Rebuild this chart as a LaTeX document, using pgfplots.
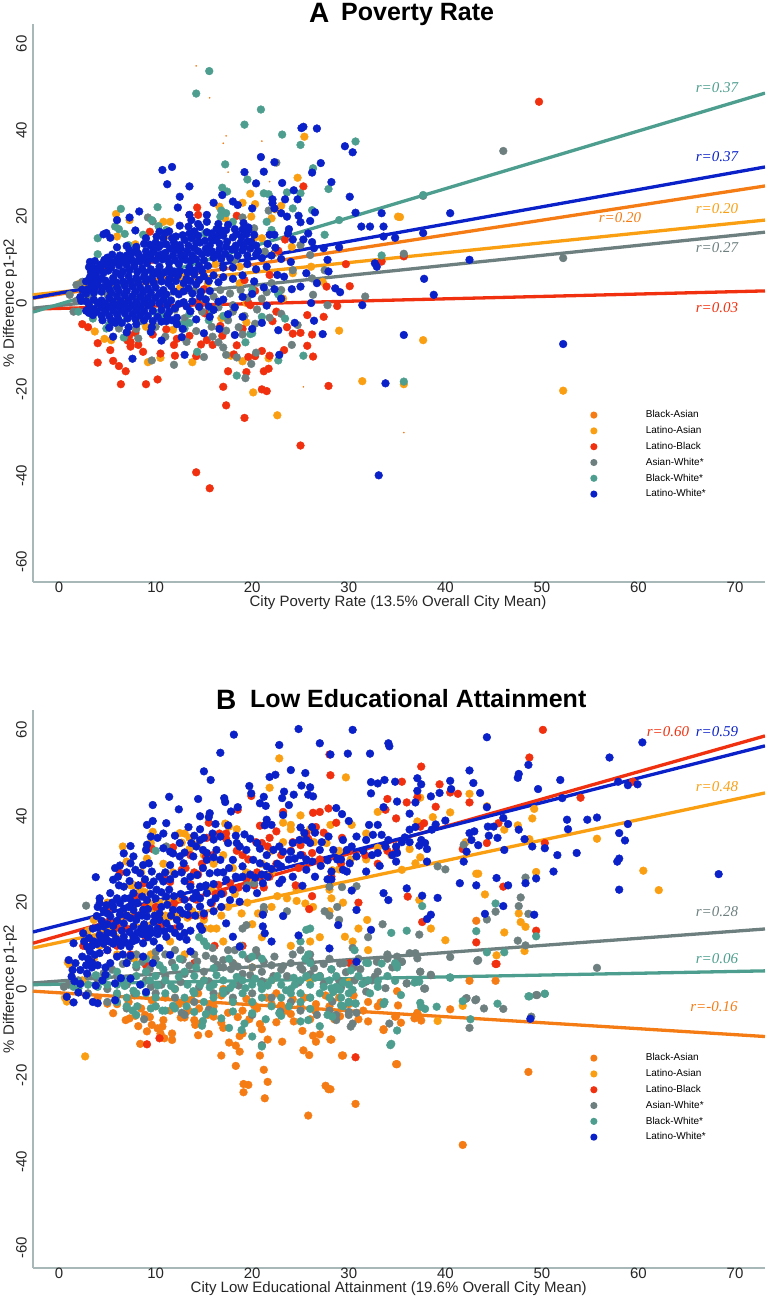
\documentclass[border=0pt]{standalone}
\usepackage{fontspec}
\setmainfont{Liberation Sans}
\newfontfamily\tms{Liberation Serif}
\usepackage{pgfplots}
\pgfplotsset{compat=1.18}

\definecolor{cBA}{HTML}{F57C14}
\definecolor{cLA}{HTML}{FA9F12}
\definecolor{cLB}{HTML}{F0300F}
\definecolor{cAW}{HTML}{6E7F7F}
\definecolor{cBW}{HTML}{4D9E8E}
\definecolor{cLW}{HTML}{0A20C8}
\definecolor{axc}{HTML}{A8B8B8}
\definecolor{txt}{HTML}{262626}

\newcommand{\lblfont}{\fontsize{15}{15}\selectfont}

\pgfplotsset{
  dots/.style={only marks, mark=*, mark size=3.9pt, color=#1, mark options={draw=none, fill=#1}},
  specks/.style={only marks, mark=*, mark size=0.6pt, color=#1, mark options={draw=none, fill=#1}},
  fit/.style={no marks, line width=3.3pt, color=#1},
  panel/.style={
    scale only axis, width=732pt, height=558pt,
    xmin=-2.7, xmax=73.1, ymin=-64.6, ymax=64.6,
    axis x line=bottom, axis y line=left,
    axis line style={-, draw=axc, line width=1.3pt},
    xtick={0,10,20,30,40,50,60,70},
    ytick={-60,-40,-20,0,20,40,60},
    yticklabels={-60,-40,-20,0,20,40,60},
    major tick length=0pt,
    /pgf/number format/assume math mode=true,
    tick label style={font=\lblfont, text=txt},
    xticklabel style={anchor=north, inner sep=0pt},
    yticklabel style={rotate=90, anchor=south, inner sep=0pt, yshift=6pt},
    every axis y label/.style={at={(axis description cs:0,0.5)}, rotate=90, yshift=23pt, anchor=center, font=\lblfont, text=txt},
    legend image code/.code={\fill[draw=none, ##1] (0pt,0pt) circle (3.6pt); \path[draw=none, fill=none] (0pt,0pt) -- (52pt,0pt);},
    legend cell align=left,
    legend style={draw=none, fill=none, inner sep=0pt, row sep=6.3pt,
      nodes={font=\fontsize{10}{10}\selectfont, text=black, inner sep=0pt, text height=7.5pt, text depth=2pt}},
  },
}

\begin{document}
\begin{tikzpicture}
\useasboundingbox (0,0) rectangle (767pt,-1298pt);

% ---------- panel A ----------
\begin{axis}[panel, at={(33pt,-582pt)}, anchor=south west,
  xlabel={City Poverty Rate (13.5\% Overall City Mean)},
  ylabel={\% Difference p1-p2},
  every axis x label/.style={at={(axis description cs:0.4986,0)}, yshift=-21pt, anchor=center, font=\lblfont, text=txt},
  legend style={at={(axis description cs:0.761,0.308)}, anchor=north west}]
\addlegendimage{fill=cBA}
\addlegendimage{fill=cLA}
\addlegendimage{fill=cLB}
\addlegendimage{fill=cAW}
\addlegendimage{fill=cBW}
\addlegendimage{fill=cLW}

\addplot[specks=cBA] coordinates {(14.2,54.9)(15.6,47.5)(17.3,38.7)(17,37)(21,37.5)(17.5,30.3)(21.8,28.1)(25.3,-19.4)(35.7,-30)};

\addplot[dots=cLA] coordinates {(5.9,20.6)(7.3,19.2)(6,15.4)(7.9,13.6)(10.8,18.8)(11.5,18.8)(25.4,38.5)(24.7,29)(19.8,25.3)(19,23.2)(20.3,22.9)(16.6,22.3)(23,22.5)(22.4,21.7)(19.9,20)(22,19.6)(17.2,19.6)(35.1,20)(24.1,13)(20.3,15.2)(21,15)(24.2,6.9)(26.1,8.4)(27.3,4.9)(18.7,8.4)(18.7,4.6)(12.5,12.3)(11,15.4)(13.9,16.1)(12.5,3.4)(14.6,0)(15.4,4.6)(2.2,4.6)(2.7,4.2)(19.4,0)(3.7,-6.6)(4.7,-8.3)(5.4,-8.6)(9.2,-13.7)(10.5,-12.7)(13.8,-13.7)(17.8,-12.2)(19,-13.5)(21.7,-12.8)(20.1,-20.7)(22.6,-26)(31.4,-18.1)(29,-6.4)(11.8,-6.2)(9,-5.5)(19.4,-4.5)(35.3,19.9)(37.7,-8.6)(52.2,-20.3)(35.7,-18.8)(8.8,-1)(16.8,-3.5)(23.2,1)(16.2,9)(13,6)(22.3,11.5)};

\addplot[dots=cLB] coordinates {(25.3,27)(14.3,22.1)(13.5,20.4)(14.4,20.4)(18.4,20.2)(23.4,14.7)(22.7,12.1)(9.4,16.5)(9.6,10)(4.6,7.6)(13.9,10.3)(29.7,9)(33.4,9.6)(21.8,6.5)(19.2,5.3)(20.3,2.8)(15,3.2)(27.7,3.8)(30.1,3.9)(14.4,.3)(14.6,-.5)(19.8,-.5)(19.6,0)(25.7,-2.8)(27.4,-3.2)(28.8,-.7)(22.5,-2)(15.1,-2.4)(4,-13.8)(5.6,-13.4)(6.2,-14.6)(6.9,-15.8)(6.4,-18.8)(9,-18.8)(10.2,-17.7)(5.3,-10.9)(4,-9.3)(2.4,-4.9)(3,-5.6)(7.4,-9)(7.4,-10.1)(8.2,-9.7)(8.7,-11.3)(9.7,-7.3)(10.5,-11.7)(12,-12.2)(11.9,-9.7)(11.1,-6.1)(12.2,-8.3)(13.5,-7.6)(14.7,-9.6)(15.3,-8.6)(15.9,-9.7)(16.9,-7.6)(16.7,-5.3)(14.2,-12.3)(17.5,-15.8)(19.4,-16)(17,-19.4)(17.3,-23.7)(19.2,-26.6)(21,-20)(21.5,-20.4)(21.2,-15.8)(21.7,-15.2)(18.1,-11.9)(19.6,-12.5)(20.3,-12.3)(21,-11.1)(21.8,-12.2)(23.3,-10.9)(18.4,-9.8)(19,-6)(24.2,-7.1)(25,-6.9)(26.2,-7.3)(25.7,-9.9)(26.3,-12.4)(27.9,-19.2)(25,-33)(14.2,-39.2)(15.6,-42.9)(23.6,-5.6)(22.1,-4.2)(7.3,-7.4)(7.9,-6.9)(7.1,-8.7)(49.7,46.6)(35.7,10.8)};

\addplot[dots=cAW] coordinates {(9.2,19.8)(9.7,18.9)(22.5,32.5)(21.7,21.4)(19,19.8)(20.2,17.3)(21.3,11.9)(25,13.4)(26,11.1)(31.7,1.5)(26.3,1.9)(27.8,-.5)(22,4.6)(24.2,7.6)(26.2,5.7)(27.5,7.6)(18.2,10)(17.7,2.2)(1.1,1.9)(1.8,4.2)(2.4,4.9)(1.5,-2)(1.8,.5)(9.6,-13.3)(11.9,-14.3)(15,-12.5)(13.2,-9)(11,-7.8)(8.2,-8.2)(16.5,-9.1)(17,-10.3)(17.3,-12)(18.4,-12.6)(19.3,-17.4)(19.9,-14.1)(20.4,-11.5)(19,-7.3)(24.1,-9.7)(14.2,-6.5)(15.9,-7.8)(17.3,-6.4)(18.6,-5.6)(20.3,-4.8)(24.7,-5.1)(15.8,-5.5)(6.2,-5.9)(46,35.2)(37.7,24.8)(35.7,11.4)(52.2,10.4)(13,-3.5)(14.8,-2)(16.5,-1)(18,-2)(12,-1.5)(10.5,-3)(8.5,-4.2)(20.5,-1.5)(16,1.5)(18.8,3)(14,2.8)(21,1)(8,-6)(17.5,-4)(23,-2.5)(4,-1)(3,1)(5,2)(18,-.5)(19.5,1.2)(21.5,2.5)(23,3)(16.7,3)(15,1)(12.6,-5)(10,-5.5)(19.2,-3)(21.8,-3.4)};

\addplot[dots=cBW] coordinates {(15.55,53.7)(14.2,48.5)(20.9,44.8)(19.2,41.3)(23.1,39)(25,36.6)(30.7,37.4)(17.2,32.1)(26.3,31.2)(19.5,28.6)(16.9,26.7)(17.4,25.8)(21.2,25.4)(21.7,25.2)(23.6,25.6)(25,25.4)(27.9,26.4)(24.2,21.9)(26.2,21.5)(6.4,21.8)(5.8,17.7)(6.2,17.1)(4,15)(4,11.3)(10.2,22.2)(9.6,19.2)(11.1,16.9)(29,19.2)(27.5,15.8)(33.4,11)(7.2,13.4)(8.7,15.8)(10.3,17.8)(14.2,15.4)(15.1,16.1)(16.8,21.4)(17.3,20.8)(18,18.8)(16.7,20)(21.5,18.8)(22,16.9)(22.7,2)(23.4,-3.6)(21,-3.2)(9.8,-2)(10.8,-2.8)(13.5,-2.5)(2,-2)(18.4,-16.8)(25.3,-12.2)(22.7,-13.3)(19.3,-9.1)(14.3,-11.3)(19.8,-7.2)(13,-5.9)(6.7,-8)(4.9,-5.9)(35.7,-18.2)(12.8,-5)(13.5,-4.6)(20,-7)(37.7,25)(4.5,9)(6.8,16)(17,-3)(15.5,-4)(20,3)(11,1)(7,-3.5)(5.2,-5)(6,-4.5)(3.5,-3.6)(15.8,-1.8)};

\addplot[dots=cLW] coordinates {(25.3,40.8)(25.1,40.5)(26.7,40.4)(29.6,36.3)(30.4,34.9)(20.9,33.8)(22.3,32.6)(27.1,32.4)(10.7,30.8)(11.7,31.5)(19.2,30.3)(21.2,30.4)(26.2,30.2)(11.2,27.5)(13.5,27)(20.4,27.7)(23.1,27.8)(28.2,28)(24.3,26.1)(30.1,24.6)(12.5,24.6)(16.9,25)(22.1,24)(23.4,24)(24.7,24)(4.6,15.9)(4.9,16.2)(5.3,15.1)(6,12.9)(6,19.2)(7.3,19.8)(8.3,21.2)(7.9,16.8)(10.1,15.4)(10.8,15)(11.7,15)(12.3,22.1)(13.5,20.4)(13.7,19.2)(13.4,17.7)(12.5,17.9)(14.4,18.3)(15.3,20.4)(16,23.2)(15.3,18.8)(16.5,18.3)(16.7,16.9)(17.5,18.1)(18,23.5)(18.5,22.7)(20,21.9)(19.1,18.5)(19.6,16.9)(22.1,23.1)(22.3,21.9)(23,20.8)(23.6,20)(24.8,20.2)(25,18.7)(26,19)(26.5,21)(23.8,17.1)(23.7,16.1)(22.3,15.8)(21.8,15.8)(24.2,14.7)(25.3,14.7)(26.2,14.1)(25.8,16.1)(30.7,20.9)(33.4,20.8)(31.3,17.7)(32.2,17.7)(33.6,17.7)(33.6,15.4)(34.8,15.1)(29,12.9)(27.4,12.7)(26.4,12.7)(27.8,10)(27.9,7.3)(32.9,8.4)(32.7,9.2)(26.7,4.6)(25,3.8)(24.1,3.2)(28.6,3.4)(29.1,2.5)(26.1,0)(31.4,-.5)(23.3,6.1)(22.6,6.5)(25.6,6.9)
(40.5,20.8)(37.7,16.2)(42.5,10)(37.8,5.6)(38.8,1.9)(35.7,-7.4)(52.2,-9.5)
(7.6,-12.9)(13,-12)(10.6,-8.7)(5.6,-7.8)(12.7,-7.9)(15,-7)(22.7,-6.3)(22.8,-12)(27.3,-7.2)(24.4,-4.6)(26.4,-4.1)(33.8,-18.6)(33.1,-39.9)(5.2,-5.7)(5.8,-4.6)(6.5,-4.6)(7.2,-5.6)(8,-4.9)(9.6,-5.6)(11.1,-4.2)(12.2,-4.9)
(3.2,9.5)(3.7,9.7)(4.4,9)(5,10.5)(5.5,11.2)(6.3,11)(7,11)(7.5,10)(8.2,11.4)(8.8,10.5)(9.1,9.2)(9.8,12)(10.3,12.9)(10.6,11.2)(11.2,10.3)(11.5,12.6)(10,14)(9.4,13.5)(9,15)(11.9,14)(12.5,13.4)(13,14.6)(13.7,15)(14.4,15.6)(14.6,14)(14,12.7)(13.3,12)(12.6,11)(14.8,11.3)(15.4,11.6)(16,14.5)(16.4,15.4)(17,15.6)(17.4,14.2)(18,15.2)(18.4,16)(18.9,15.3)(19.4,15.9)(18.8,14)(19.5,14.2)(17.9,12.4)(16.6,12.4)(16,10.5)(16.8,10.2)(17.7,10.4)(18.5,11)(19.5,11)(20.4,11.2)(21,10.4)(22,11)(23,10.2)(24,9.5)(21.5,8.4)(20.4,7.8)(19.5,9)(18,8.2)(17,8.2)(15.4,8.6)(14.5,8.6)(13.5,8.2)(12.4,9)(11.4,8)(10.4,8.4)(9.5,7.8)(8.6,8)(7.8,8.5)(7,8.8)(6.2,8.7)(5.4,8.2)(4.6,7)(3.8,6.6)(3.2,6)(2.8,5)(3.4,4)(4,4.8)(4.8,5.2)(5.6,5.8)(6.4,6.4)(7.2,6.2)(8,5.8)(8.8,6.1)(9.6,5.6)(10.5,6.2)(11.4,5.6)(12.3,6.4)(13.2,5.6)(14,6.6)(15,6.2)(16,6.4)(17,6)(18,5.6)(19,6.4)(20.2,5)(21.2,3.6)(22.3,3.2)(23,1)(21.5,-0.6)(20,2.1)(19,1.4)(18.2,-1)(17,.8)(16,-1.6)(15.2,.8)(14.2,4.3)(13.4,3.4)(12.4,2)(11.6,3.9)(10.8,3)(10,3.6)(9.2,3.4)(8.4,3.6)(7.6,3.8)(6.8,4)(6,3.6)(5.2,3.2)(4.4,2.6)(3.6,2.4)(2.8,2.2)(2.2,1.4)(2.8,.4)(3.6,.8)(4.4,.6)(5.2,1.2)(6,1.6)(6.8,1.8)(7.6,1.6)(8.4,1.4)(9.2,1.2)(10,1.2)(10.8,.8)(11.6,.6)(12.4,-.2)(13.2,-.8)(9.2,-.6)(8.4,-.8)(7.6,-.6)(6.8,-.4)(6,-.6)(5.2,-.8)(4.4,-1)(3.6,-1.4)(2.8,-1.8)(3.5,-2.8)(4.4,-2.9)(5.2,-3)(6,-2.6)(6.8,-2.4)(7.6,-2.6)(8.4,-2.8)(9.2,-3)(10.2,-3.2)(11.2,-3)(12.2,-3.4)(14.2,-3.8)(15.6,-3.2)(17.5,-2.6)(19,-3.2)(20,-6)(21,-4.6)(16.6,-6)(18.2,-7.4)(12.8,-6)(7,-6.8)(9.5,-6.7)(9,12)(8,13)(7,13.2)(6.5,9.9)(14.6,17.6)(15.6,13.3)(13.1,10)(11.9,7.3)(20.4,13.3)(21.6,13.7)(22.4,12.8)
(3.1,8.3)(3.6,8.1)(4.2,8.6)(4.9,8.9)(5.7,9.4)(6.4,9.6)(7.1,9.7)(7.8,9.4)(8.4,9.6)(9.3,10.1)(10,9.9)(10.7,10.1)(11.4,9.3)(12,9.9)(12.8,10.2)(13.6,9.7)(14.2,10.1)(15,9.9)
(3.3,7.2)(3.9,7.4)(4.3,7.9)(5.1,7.5)(5.9,7)(6.6,7.3)(7.3,7.6)(8.1,7.2)(8.9,7.1)(9.7,7)(10.2,7.3)(10.9,7.1)(11.7,6.7)(12.5,7.4)(13.3,7.1)(14,7.5)(14.8,7.4)
(3.1,5.2)(3.7,5.4)(4.4,5.7)(5.2,4.5)(5.9,4.8)(6.6,5)(7.4,5)(8.2,4.7)(9,5)(9.8,4.6)(10.6,5)(11.3,4.6)(12.1,5.1)(12.9,4.6)(13.6,5.1)(14.5,5.3)(15.5,5.1)(16.5,4.8)
(2.4,3.1)(3,3.2)(3.7,3.4)(4.5,3.6)(5.4,2.4)(6.2,2.7)(7,2.8)(7.9,2.6)(8.7,2.5)(9.5,2.4)(10.4,2.2)(11.1,2)(11.9,2.7)(12.9,2.7)(13.8,2.2)(14.7,2.6)(15.6,2.8)
(2.3,.5)(3.1,-.4)(4,0)(4.8,-.2)(5.6,.2)(6.4,.4)(7.2,.6)(8,.2)(8.8,.3)(9.6,0)(10.4,-.1)(11.2,-.5)(12,-1.2)(12.9,.2)(13.8,.4)(14.6,1.5)(15.5,-.8)(16.5,.3)
(3.1,-2.3)(3.9,-2)(4.8,-1.9)(5.6,-1.7)(6.4,-1.5)(7.2,-1.3)(8,-1.7)(8.8,-1.9)(9.7,-1.8)(10.6,-1.6)(11.4,-2)(13.6,-1.9)(14.5,-.9)
(4.5,-4)(5.4,-4)(6.1,-3.6)(7.1,-3.6)(7.9,-3.7)(8.8,-4)(9.7,-4.2)(10.6,-4.3)(11.7,-4)
(4.7,10)(5.3,9.6)(6,10.1)(6.8,10.5)(7.5,11.4)(8.3,10.3)(9,10.9)(9.5,11.2)(10.3,11)(11,11.6)(11.8,11)(12.2,12.3)(13,11)(13.8,11)(14.4,12)(15.2,12.6)(15.8,12)(16.4,11.3)(17.2,11.4)(18.2,12.4)(19,12.2)(19.8,12.6)(20.6,12)
(7.3,12.2)(8,12)(8.8,13.7)(9.7,13)(10.5,13.4)(11.1,13.6)(11.8,12.6)(12.6,12.6)(13.4,13.3)(14.2,13.9)(15.1,14.4)(15.8,14.9)(16.6,13.8)(17.3,13)(18.3,13.3)(19.1,13)(19.9,14.2)
(10.4,16.5)(11,16.2)(11.4,16.6)(12.1,15.4)(12.8,15.7)(13.5,16.1)(14,16.6)(15.3,16.4)(15.8,16.1)(16.3,17.1)(17.3,16.9)(18.2,17.1)(19,17)(19.6,17.5)(20.2,15.8)};

\addplot[fit=cBA] coordinates {(-2.7,1.1)(73.1,27.1)};
\addplot[fit=cLA] coordinates {(-2.7,1.9)(73.1,19.2)};
\addplot[fit=cLB] coordinates {(-2.7,-1.4)(73.1,2.8)};
\addplot[fit=cAW] coordinates {(-2.7,-1.2)(73.1,16.4)};
\addplot[fit=cBW] coordinates {(-2.7,-2.1)(73.1,48.6)};
\addplot[fit=cLW] coordinates {(-2.7,1.2)(73.1,31.5)};
\legend{Black-Asian,Latino-Asian,Latino-Black,Asian-White*,Black-White*,Latino-White*}
\end{axis}

% ---------- panel B ----------
\begin{axis}[panel, at={(33pt,-1268pt)}, anchor=south west,
  xlabel={City Low Educational Attainment (19.6\% Overall City Mean)},
  ylabel={\% Difference p1-p2},
  every axis x label/.style={at={(axis description cs:0.486,0)}, yshift=-21pt, anchor=center, font=\lblfont, text=txt},
  legend style={at={(axis description cs:0.761,0.385)}, anchor=north west}]
\addlegendimage{fill=cBA}
\addlegendimage{fill=cLA}
\addlegendimage{fill=cLB}
\addlegendimage{fill=cAW}
\addlegendimage{fill=cBW}
\addlegendimage{fill=cLW}

\addplot[dots=cBA] coordinates {(5.6,-5.6)(6.9,-7.2)(7.3,-6.8)(7.9,-6.2)(8.2,-8.6)(8.4,-12.7)(9.1,-9.8)(8.9,-6)(9.6,-8.3)(10.2,-9.1)(10.7,-8.7)(10.8,-7.2)(10.5,-10.3)(10.9,-11.4)(11.7,-10.3)(11.7,-11.8)(12.6,-6.6)(13,-6.6)(14,-7.2)(14.1,-8.3)(14.6,-8)(14.4,-10.7)(15.5,-10.4)(16,-6.4)(16.8,-7.8)(16.8,-15.4)(17.6,-12.4)(18.3,-13.1)(18.7,-14.5)(18.3,-17.8)(18.7,-10.9)(19,-10.3)(19.1,-22)(19.6,-22.2)(19.1,-23.9)(20.8,-8.1)(20.8,-15.4)(21.2,-18.7)(21.6,-21.5)(21.3,-25.3)(21.6,-11.7)(23.1,-12.2)(24.3,-7.5)(25.2,-9.7)(25.3,-14.2)(25.9,-15.3)(25.8,-29.3)(26.3,-10.8)(26.6,-12.2)(27,-10.5)(27.6,-22.4)(27.9,-23.2)(28.1,-11.7)(29.3,-15.4)(30.7,-26.6)(33.6,-9.5)(34.9,-17.4)(34.9,-6.3)
(28.2,-11.7)(29.4,-15.4)(28.1,-23.2)(35,-17.4)(33.6,-9.3)(35.4,-7.8)(34.8,-6.4)(35.1,-3.8)(33.3,-3.1)(35,-.5)(37.1,-5.5)(36.8,-6.8)(37.5,-7.3)(37.2,-6.2)(40.5,-4.7)(42.5,1.9)(45.2,1.9)(48.6,-19.2)(41.8,-36.1)(29.1,-6.3)(43.2,15.8)
(6,-3.5)(8.5,-4.5)(10,-4)(11.5,-5)(13,-3)(14.5,-4.5)(16,-4)(17.5,-5.5)(19,-5)(20.5,-4.5)(22,-3.5)(23.5,-5)(25,-4)(26.5,-5)(28,-4)(30,-3.5)(31.5,-5)(33,-4)(15,2)(17,0)(22.5,-1)(27,3)(12,0)
(4,-2)(5,-3.4)(7.2,-3)(7.8,-1.5)(9.6,-2.6)(11,-2)(12.4,-3.5)(13.7,-2.5)(14.4,-1)(15.6,-3.5)(16.8,-1.5)(18,-3)(19.4,-2.3)(20.2,-3.8)(21.5,-2)(23,-3.7)(24.2,-2.4)(25.4,-2)(26.6,-3.5)(27.6,-1.5)(29,-2)(30.5,-1.5)(32,-3)(9.4,-6.5)(13.4,-5)(15.4,-6)(17,-9)(18.5,-6.5)(19.7,-7)(21,-9.3)(22.5,-7.7)(24,-5.8)(26,-7)(28.5,-7)(31,-7)(32,-7.5)};

\addplot[dots=cLA] coordinates {(2.7,-15.6)(.8,-2.9)(.9,6.2)(1.1,5.6)(3,13.5)(3.6,16)(5,20)(6.6,33)(7,29.5)(7.4,24)(8.5,27)(9.1,30.2)(9.7,36.4)(9.5,33.8)(10.8,25.5)(11,17)(12.5,36.1)(12.7,33.9)(13.5,32.4)(14,26.5)(15.8,23)(16.3,14)(17.2,38.3)(17.6,37.6)(18.4,37)(19.5,20)(19.7,25)(21.8,46.6)(22.8,53.4)(23.2,38.5)(24,38)(25,40.2)(26,37)(28.1,38)(29.7,49)(30.3,38)(31.8,36)(33,41)(34.9,33)(24.6,20.4)(25.5,19.8)(26.3,19)(28,23)(28.3,27.5)(29,27.7)(28,18)(29.6,12.1)(30.4,11)(31.9,16)(22,27)(17,11)(15,14)(18,6)(20,5)(22,2)(26,2)(13,8)(11.5,11)(9.5,8)(7.8,7)(6,8)(4,12)(2.4,2)(37.4,44.3)(42.5,45.2)(44.3,42.3)(40.5,40.9)(38.7,39.8)(37.1,38.8)(49.2,41.7)(49,39.5)(47.5,37.9)(46.1,36.9)(48.7,34.7)(55.7,34.8)(36.3,32.4)(37.4,30.5)(36.9,29.1)(35.5,27.6)(42.1,34)(49.4,27.1)(43.2,26.7)(43.4,26.7)(60.5,27.4)(62.1,22.9)(44.1,21.9)(37.3,20.6)(47.6,17.5)(47.8,15.5)(48.3,14.4)(38.5,14)(40,11.3)(46.1,13.1)(48.2,8.8)(45.3,7.8)(39.2,-7.4)(41.8,-3.9)(30,1.6)(.6,-2)
(3.1,9.3)(3.6,7)(4.2,10)(4.6,13.5)(5.4,14)(5.9,12)(6.4,16.5)(7.2,17)(7.8,24)(8.4,23)(8.9,22.4)(9.3,20)(9.8,18.6)(10.4,20)(11.3,20.5)(11.7,19)(12,17)(12.5,21)(13.3,16.5)(13.8,18)(14.3,17)(15,16)(15.7,14)(16.8,17)(17.5,19)(18.2,22)(18.9,17.5)(20,15)(20.6,17.5)(22,19)(22.6,21.5)(23.6,21)(24.6,23)(10.8,29)(11.8,27)(13,36)(13.5,35)(14.3,33.5)(15,31)(16,29)(17,31)(18,28)(19.4,27)(21,29)(22,32)(23.2,34)(24,37)(25.4,35)(26.4,34)(27.7,33.8)(29,32)(30.2,30)(31.8,30)(33,32.7)(34.4,31)(28.2,21)(29.4,20)(31,14)(27,12)(26,11)(24,10)(32,9)(21,12)};

\addplot[dots=cLB] coordinates {(6.3,26.9)(8.8,24.5)(10.8,26)(9.6,32.5)(11.8,32.8)(13.6,31)(15.3,35)(15.5,38.5)(14.4,26.5)(13.6,24.3)(16.5,24.1)(17.3,34.8)(18.5,41.5)(19.9,44.7)(20.8,37.8)(21,33.8)(21.6,33)(23.2,41)(24.2,34)(25.6,36)(26.3,40.8)(27,41)(27.9,41.8)(28.7,38.5)(29.3,35)(30,32)(21.2,23.5)(24.5,24)(26.2,21.5)(25.9,18.5)(21.2,18)(28.2,26)(34,44)(33.8,41.5)(34.9,39.5)(34.9,32)(31,20)(30.1,6)(28,54.3)(28.1,49.5)(19,10)(16.1,10)(14,6)(7,14)(8,17)(9,12)(5,18)(2.5,10)(12,14)(10,19)
(9.1,-12.8)(10.4,-11.4)(30.7,-15.8)(30.3,5.8)(45.2,5.8)
(50.1,60)(48.7,53.6)(37.5,51.5)(39.4,47.4)(40.5,45.5)(41.3,45.2)(35.5,48)(37.1,44.4)(36,43.2)(39,42.2)(42.5,43.2)(54,44.3)(59.4,48)(37.8,38.4)(37.4,37.6)(45.5,38.4)(44.3,33.8)(41.8,32.4)(50.3,33.8)(46,23.7)(36.1,21.4)(37.6,15.5)(49.4,13.5)(45.3,5.8)(43.2,10.8)
(3.5,11)(4.6,12)(5,15.5)(6,14.3)(6.9,17)(7.5,19.6)(8,21.4)(8.9,19)(10,16.5)(10.5,14.7)(11.9,19.8)(12.8,21)(13.5,17)(14.2,20.7)(15,17)(15.8,19.8)(16.2,22)(17,22.2)(17.7,24.5)(18.6,23.5)(19.4,25.5)(20.2,24)(20.5,27)(21.8,26)(22.5,29)(23,31)(24,32)(24.8,28)(25.2,31)(26.2,31.5)(27,30)(11.5,24.8)(12.7,27.6)(13.1,28)(14,27)(14.8,29)(15.2,30.7)(15.9,31)(16.6,36)(17.3,36)(18.4,32)(19,31)(19.6,30)(20.4,34)(21.8,35)(22.5,36.5)(25,33.3)(25.8,34.8)(26.6,37.5)(27.4,36.2)(29.2,29)(31.7,31)(33,29)(34,32)(5,9)(6,10)(7.4,8)(9,5.5)};

\addplot[dots=cAW] coordinates {(2.8,19.3)(11.1,33)(19.5,24)(20.2,24.5)(21.2,19)(21.2,18)(23.6,18)(28,23.7)(29.3,23.6)(30.8,23.8)(29,16)(30.4,9.5)(33.5,15)(19,14)(19.4,14.8)(18.8,10)(17.5,9)(18.2,9)(20.5,7.8)(25,9)(26,8)(27.5,18)(28,17)(28.8,19)(32,12)(34,8)(35,7.5)(31,7)(29.5,6)(28,7)(26,6.5)(24,6)(22,5.5)(20,5)(18,6)(16,7)(14,8)(12,9)(10,7)(8,5)(6,3)(4,2)(2,2)(1,1)(.5,.5)(3,-1)(5,0)(7,1)(9,2)(11,3)(13,3.5)(15,4)(17,5)(19,3.5)(21,4)(23,4.5)(25,5)(27,3)(29,2)(10,-1)(12,-2)(14,-3)(16,-1)(18,-2)(20,-1)(22,-2)(24,-3)(26,-2)(28,-5)(30,-6)(30.4,-8)(8.8,-7)(12.7,-5.5)(21,-13)(22.9,-5.2)(25,-5)(28.7,-6)(30,-3)
(55.7,4.9)(49.5,-1.4)(43.1,-2.6)(44,-4.5)(46,-4.6)(42.1,-2.3)(42.5,-9)(48.9,-6.4)(34.2,-8)(30.2,-8.7)(37.8,.1)(36,1.3)(33.8,.2)(31.8,-.6)(31.8,1.7)(32.4,2)(32.7,2.9)(29.1,1.5)(37.4,4)(38.5,3.2)(35.5,6.3)(32.9,6.3)(43.3,6.5)(30,-5.3)(30.8,-5.5)(28.7,-7.2)(28.3,-2.9)(29.1,5.9)
(39.2,28.4)(40,27.7)(41.9,33.4)(48.3,25.8)(47.8,21.2)(47.6,19.2)(45.2,17.9)(44.3,16.1)(48.6,17.4)(37.3,12.6)(47.5,11.2)(48.3,10.1)(40.5,7.4)(43.4,6.7)(36.3,8.3)(36.9,8.3)(37.1,7.1)(35.5,6.3)(37.4,4)(36,1.3)(37.9,.1)(38.5,3.3)(42.2,-2.1)(43.2,-2.4)(49.4,-1.4)
(3,3)(4.6,3.6)(5.5,4.5)(6.6,5.8)(7.2,7)(8,8)(8.6,6.3)(9.4,4.7)(10,8.6)(11,8)(11.7,6.1)(12.8,6.8)(13.5,5.4)(14.3,6.4)(15.2,7.7)(15.9,9.5)(16.4,5.6)(17,6.7)(17.8,4.6)(18.5,5.2)(19.6,7)(20.4,9)(21.2,6.3)(22.3,7.5)(23.2,5.3)(24.2,8)(25.2,4.5)(26.4,4.8)(27.4,5.8)(28.2,4.5)(29.7,3.9)(30.5,5)(31.2,4.6)(33,4)(34,7)(34.5,5)(6,-1.5)(7.8,-1)(9.5,.5)(10.6,1)(12.6,1.6)(14.5,.5)(15.5,1.8)(17.3,-.5)(18.6,.8)(19.8,3.2)(21,1.8)(22.2,3)(23.6,3)(24.8,1.5)(26,3.4)(27.4,1.2)(29.2,.3)(30.6,2)(5,-3)(7,-4.5)(13,-6)(15.5,-4.8)(20,-6)(26.7,-6)};

\addplot[dots=cBW] coordinates {(10,32)(15,11)(15.3,10)(14.5,12)(19,8)(21,7)(25,11)(25.6,13.7)(26,14)(30.6,9)(32,6)(34.4,13)(34.8,6)(35,5)(25.8,8)(25.5,7)(26,6)(12,5)(13,4)(14,3)(15,2)(16,1)(17,2)(18,1)(19,2)(20,1)(21,0)(22,2)(23,1)(24,0)(25,2)(26,1)(27,3)(28,2)(29,0)(30,1)(31,3)(32,2)(33,.5)(34,3)(11,2)(10,3)(9,4)(8,3)(7,2)(6,1)(5,1)(4,.5)(3,1)(2,1.5)(1.5,.5)(12,0)(11,-1)(10,-2)(9,-1)(8,-1)(7,-2)(6,-1)(13,-2)(14,-1)(15,-3)(16,-2)(17,-1)(18,-3)(19,-1)(20,-3)(21,-2)(22,-4)(23,-2)(24,-1)(25,-3)(26,-2)(27,-1)(28,-2)(7.6,-5)(8,-6)(8.1,-4)(9.5,-4.5)(10.7,-5)(11.8,-3.9)(12,-4.5)(15.2,-5.8)(14.8,-8.5)(14.9,-7.4)(16.8,-6.8)(17.6,-9)(18.9,-9.5)(19.2,-8)(20,-11)(21,-13.3)(21.4,-7)(22.8,-5.6)(23,-6.2)(25,-7.5)(25.8,-7.2)(27,-8.6)(27.8,-6)(29.4,-4)(30,-3)(30.7,-3.3)(33.7,-3)(34.3,-13)
(50.3,-1.1)(48.6,-1.7)(45.4,-3.4)(41.8,-2.8)(42.6,-7)(39.1,-4.1)(37.4,-3.2)(37.5,-4.1)(37.9,-4.6)(33.6,-3.5)(35,-9.6)(34.4,-12.7)(35.4,-1.4)(34.8,1.9)(37,1.7)(36.8,1.5)(40.5,2.6)(35,5.5)(33.4,5.9)(31.8,6.1)(30.2,4.3)(28.7,3)(28.2,4.6)(28.2,.2)(28.7,.5)(29.1,-.2)(30,-1)(30,-3.1)(30.7,-3.4)(29.2,-3.8)(28.3,-6.4)
(37.6,19.2)(45.2,19.8)(36,13.5)(43.2,13.4)(49.4,12.2)(44.3,8.5)(46.1,8.5)(40.5,2.7)(36.9,1.6)(37.3,1.7)(48.7,-1.7)(50.3,-1.1)
(2,.2)(3.8,3.2)(5,3)(6,4)(6.8,.7)(7.7,-.4)(8.6,1.2)(9.4,2)(10.2,.8)(10.8,4.5)(11.6,.7)(12.4,2.8)(13.3,1)(13.9,-.5)(14.6,1)(15.6,.4)(16.3,3.2)(17,-.4)(17.7,.2)(18.4,2.8)(19.3,.2)(20.3,2.4)(20.9,1.2)(21.6,.8)(22.6,3)(23.5,-.3)(24.4,1)(25,-1)(25.6,3)(26.5,2.6)(27.4,.5)(28.4,-.7)(29.4,1.5)(30.4,-.2)(31.4,1.2)(32.2,-1)(33,1.8)(8,5.6)(9,7)(10.4,5.5)(12.5,7)(14.2,5)(16,4.8)(17.6,7)(20,7.5)(24.3,2.6)(10,-4)(11,-5)(13.2,-4)(14,-5.3)(16,-5.2)(18,-5.2)(20,-5.6)(23.8,-4)(26,-4.6)(29.2,-2)(7,-4)(6,-3)};

\addplot[dots=cLW] coordinates {(18.1,58.9)(24.8,60.2)(30.4,60)(16.7,54.7)(22.8,56.5)(27,56.9)(34.1,56.9)(34.2,56.2)(28.1,54.3)(29.9,54.5)(32.2,54.5)(15,50.4)(15.7,48.4)(21.8,49.1)(22.4,49.6)(24,50.7)(25.5,50)(19.7,47)(19.9,45.3)(25.1,47.1)(26,46.7)(23.3,45.7)(23.1,44.2)(24.3,45)(25.8,45)(26.3,44.6)(32.3,47.9)(33,47.6)(33.7,48.4)(34.8,48)(32.3,45.3)(11.4,44.5)(14.4,44)(17.1,44.2)(17.2,43.3)(21.2,44.5)(20.8,43)(21.4,42.4)(23.8,42.6)(9.7,42.6)(12.4,41.6)(18.5,42.1)(17.8,41.1)(23.2,40.3)(28.7,41.9)(29.3,40.5)(14.6,40)(15.6,40.7)(15.5,39.8)(9.7,38.9)(9.1,38)(11.1,38.4)(13.4,37.5)(14.6,37)(16.2,38.2)(17.5,37.9)(21.5,39.2)(21.3,37.9)(22,38)(30,38.9)(32.1,38)(33,38)(33.6,42.1)(35,43.4)
(3.8,25.9)(4.2,21)(4.2,19.9)(3.9,16.9)(5.6,25.3)(6.1,26)(6.7,31.4)(7.4,33.1)(7.7,30.7)(9.1,33.4)(9,32.2)(7.4,29.1)(7.9,27.6)(8.7,28.7)(9.3,29.1)(8.4,26.8)(9.6,27.2)(9.8,24.9)(10.8,32.6)(11.5,31.8)(11.8,31.4)(12.5,30.7)(12.9,29.1)(11.5,28.7)(10.8,24.9)(12.5,33.8)(13.7,33.8)(14.2,33)(14.6,34.5)(14.9,32.2)(13.9,30.7)(15.3,29.9)(15.6,26.8)(16.7,35.3)(16.3,32.2)(17.5,33.8)(18.4,33.8)(18.7,33)(16.7,29.9)(18,29.9)(19.4,32.2)(20.5,33.8)(19,28.4)(20.1,29.9)(20.8,29.1)(21.5,28.4)(22.2,32.2)(22.8,33)(23.2,31.8)(24.2,33.8)(24.9,34.5)(25.4,36.1)(26,33.8)(27,32.2)(27.9,35.3)(28.4,32.2)(29.4,34.5)(29.8,32.2)(30.8,35.3)(30.8,30.7)(30.1,29.1)(29.8,27.2)(29.4,27.6)(28.2,25.4)(27.8,25.4)(28.2,27.2)(26.5,26)(25.6,27.6)(24.2,26)(25.2,23.9)(23.1,25.3)(22.8,24.5)(21.1,24.5)(20.5,22.2)(18,23)(19.4,23.3)(17.3,25.3)(17.7,20.6)(18.7,20.2)(14.6,23.7)(13.6,23.7)(15.3,22.2)(14.6,19.1)(12.5,18.3)(11.8,18.3)(11.1,21.4)(9.1,20.6)(10.1,23)(7.7,22.2)(6.7,23.7)(5.3,22.2)(6.3,19.9)(7.7,18.3)(8.7,18.3)(5.3,16.8)(4.6,14.5)(5.6,12.9)(6.7,15.2)(7.7,14.5)(9.1,16.8)(10.4,17.5)(11.1,15.2)(12.5,14.5)(6.7,12.1)(7.7,12.1)(8.7,10.6)(7.3,9.8)(2.9,9.8)(3.2,8.7)(3.7,7.9)(2.5,12.9)(1.5,10.6)(1,6.7)(1.7,6)(2.2,4.4)(2.9,3.6)(1.3,2.9)(4.2,8.3)(5.3,6)(7,6)(8.7,7.5)(9.7,6)(11.5,7.9)(11.1,12.1)(12.5,12.1)(13.2,11.4)(13.6,8.7)(14.6,14.5)(14.8,13.7)(17.3,15.2)(18,12.1)(18.7,9.8)(21.1,17.2)(21.1,14.5)(21.3,12.9)(22,11)(23.2,16.9)(24.8,12.4)(28,9.4)(28.9,14.8)(30.8,18.3)(32.3,13.7)(30.3,22.8)(33.6,22.2)(34.1,20.6)(31.8,27.2)(33.2,28.5)(34.9,29.5)(31.8,34.5)(32.5,35.7)(33.4,35.7)(34.1,34.5)(34.9,33)
(4,19)(4.6,18.2)(5,17.5)(5.5,20)(6,21)(6.2,24)(6.8,21)(7.2,19)(7.6,20)(8.2,17)(8.8,15)(9.4,14)(9.8,15.5)(10.2,14)(10.6,19)(11.2,19.5)(11.6,17)(12.2,16)(12.8,17.5)(13.4,19)(13.9,21)(14.2,22)(14.6,21)(15.2,24)(16,24.3)(16.8,22)(13,13)(13.6,13.5)(5,13)(4.2,12.5)(3.6,11)(4.6,10.5)(5,9)(5.6,10.5)(6.2,11)(6.5,13.5)(7.3,13.2)(8.1,13)(8.6,12.7)(9.2,12)(9.8,11)(10.4,9.5)(6,7.5)(6.6,8)(7.4,7.7)(3,7)(3.4,6.2)(4,5.5)(4.8,5)(2.4,7.5)(3.4,5)(1.4,4.4)(1.6,1.8)(2.2,1.2)(2,-.8)(2.8,-1.5)(.8,-1.8)(1.5,-3.1)(3.5,-3)(4,-3.3)(5.8,-2.6)(2.8,5.5)(4.8,3.3)(6.4,2.5)(8.4,1)(9,-.7)(5.8,1.3)(7.4,2.4)(3.8,.8)(4.5,2)
(2.6,11)(3.1,11.8)(3.4,10)(3.9,10.4)(4.3,11.2)(4.8,12)(5.2,11)(5.9,11.6)(6.4,10)(6.9,10.8)(7.6,11)(8,11.4)(8.5,14)(9,13.6)(9.6,13)(10.2,12.7)(3.5,14)(4,14.2)(4.4,15.8)(5,15)(5.6,14.6)(6,15.8)(6.3,17.2)(7,17)(7.4,16.4)(8,16)(8.6,17)(9.2,18.5)(9.9,17)(10.4,16)(10.9,13.4)(11.5,14)(12,13)(4.9,19.4)(5.6,19)(6.7,18.6)(7.3,21)(8.1,20)(8.6,21.4)(9.5,22)(10,21)(10.6,22.4)(11.4,23)(11.9,21.5)(12.6,22)(13,20.7)(13.3,17.2)(14.1,17)(15,17.5)(15.7,20)(16.2,21)(16.8,19)(16,18)(5.8,28)(6.3,28.6)(7,27)(7.3,25)(8.2,24)(8.9,25.4)(9.4,24)(10.4,26)(11,27)(11.5,25.4)(12,26.6)(12.7,27)(13,25)(13.6,26)(14.3,26.4)(14.9,28)(15.3,31.5)(16,30.5)(16.4,27)(17,27)(17.6,28)(18.3,26)(19,26)(19.8,26.5)(20.3,25.8)(21,26.5)(21.6,26)(22,27.8)(22.6,29)(23,28.4)(23.8,30)(24.4,30.2)(25,31)(25.6,30)(26.2,29.5)(27.1,28.5)(27.8,29.8)(28.8,30)(29.2,30)(30.3,33)(31.5,32)(32.4,31)(33,31.5)(33.8,33)(34.5,31)(35,31.5)(18.3,35.5)(19.2,35.8)(19.8,34.8)(20.8,32.5)(21.5,31)(24,31.8)(25,37.4)(25.6,34.5)(26.5,36.2)(26.2,37.5)(27.2,34)(13,31.6)(14,35.5)(15,35)(15.9,36)(16,34.6)(12,35.5)(10.8,36)(10.2,35)(9.5,35.3)
(48.8,-6.9)(30.8,6.3)
(44.3,58.3)(48.6,51.9)(47.6,49.8)(47.5,48.9)(51.9,48.4)(49.6,46.3)(57,53.6)(60.4,57.1)(57.9,48)(58.9,47.2)(59.9,47.4)(52.1,44.2)(42.5,50.6)(42.9,47.7)(43.6,45.4)(44.3,42.1)(40.5,48.2)(40.6,46.3)(39.4,45.4)(38.5,44.6)(37.1,48.8)(37.5,47.4)(37.1,45.9)(36.9,43.2)(36.3,40.6)(40,39)(39,38.1)(38.6,36.9)(36.3,36.9)(36.9,37.5)(35.8,35.1)(35.5,34)(36.3,34)(37.3,33.2)(37.5,34.5)(37.9,33.8)(38.1,32.4)(38.1,29.5)(42.5,36.1)(43,36.5)(42.7,34.5)(43.4,33.3)(42.2,31.8)(41.9,29.5)(44.4,37.6)(45,37.6)(44.5,35.5)(45.4,35)(46,39.6)(46.5,38.2)(46.1,32.2)(47.6,36.9)(48.2,34.7)(49,33)(50.3,32.6)(51.6,31)(53.6,31.5)(52.6,39.2)(52.7,37)(54.7,39.2)(55.7,39.7)(58,36.1)(58.6,34.4)(58.9,38.2)(57.8,29.5)(58,30.2)(58,23)(68.3,26.6)(51.2,27.2)(49.4,25.6)(48.3,24.5)(46.5,24)(45.3,25.7)(43.2,24)(41.5,24.5)(39.2,21.1)(37.6,21.6)(36,23.3)(46,19.2)(44.1,17.4)(49.2,17.2)(38.5,17.2)(38.1,16.2)};

\addplot[fit=cBA] coordinates {(-2.7,-.5)(73.1,-11)};
\addplot[fit=cLA] coordinates {(-2.7,9.5)(73.1,45.4)};
\addplot[fit=cLB] coordinates {(-2.7,10.6)(73.1,58.6)};
\addplot[fit=cAW] coordinates {(-2.7,1.4)(73.1,13.9)};
\addplot[fit=cBW] coordinates {(-2.7,1)(73.1,4.2)};
\addplot[fit=cLW] coordinates {(-2.7,13.2)(73.1,56.3)};
\legend{Black-Asian,Latino-Asian,Latino-Black,Asian-White*,Black-White*,Latino-White*}
\end{axis}

% titles
\node[anchor=base west, inner sep=0pt, font=\fontsize{28}{28}\selectfont\bfseries] at (309pt,-23pt) {A};
\node[anchor=base west, inner sep=0pt, font=\fontsize{25}{25}\selectfont\bfseries] at (341pt,-21pt) {Poverty Rate};
\node[anchor=base west, inner sep=0pt, font=\fontsize{28}{28}\selectfont\bfseries] at (216pt,-709pt) {B};
\node[anchor=base west, inner sep=0pt, font=\fontsize{25}{25}\selectfont\bfseries] at (250pt,-707pt) {Low Educational Attainment};

% correlation labels
\tikzset{rl/.style={font=\tms\itshape\fontsize{15}{15}\selectfont, inner sep=0pt}}
\node[rl, text=cBW] at (717pt,-88pt) {r=0.37};
\node[rl, text=cLW] at (717pt,-157pt) {r=0.37};
\node[rl, text=cLA] at (717pt,-209pt) {r=0.20};
\node[rl, text=cBA] at (620pt,-218pt) {r=0.20};
\node[rl, text=cAW] at (717pt,-248pt) {r=0.27};
\node[rl, text=cLB] at (717pt,-308pt) {r=0.03};
\node[rl, text=cLB] at (668pt,-732pt) {r=0.60};
\node[rl, text=cLW] at (717pt,-732pt) {r=0.59};
\node[rl, text=cLA] at (717pt,-787pt) {r=0.48};
\node[rl, text=cAW] at (717pt,-912pt) {r=0.28};
\node[rl, text=cBW] at (717pt,-959pt) {r=0.06};
\node[rl, text=cBA] at (714pt,-1007pt) {r=-0.16};
\end{tikzpicture}
\end{document}
